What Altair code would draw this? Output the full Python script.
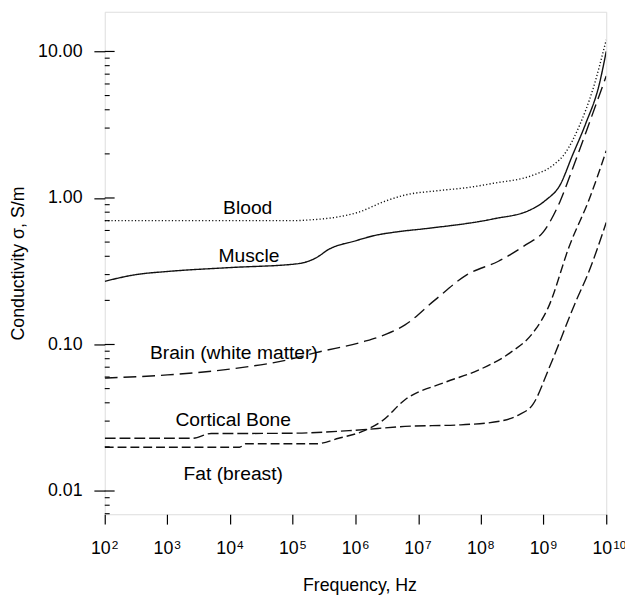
import math
import altair as alt
import pandas as pd

# ---- data (frequency in Hz, conductivity in S/m) ----
blood_f = [1e2, 1e3, 1e4, 1e5, 10**5.3, 10**5.7, 10**6.05, 10**6.47, 10**6.8, 10**7.3, 10**7.8,
           10**8.2, 10**8.83, 10**9.15, 10**9.35, 10**9.57, 10**9.78, 1e10]
blood_s = [0.70, 0.70, 0.70, 0.70, 0.71, 0.74, 0.80, 0.95, 1.05, 1.12, 1.18,
           1.26, 1.43, 1.67, 2.04, 3.1, 5.4, 12.0]

muscle_f = [1e2, 10**2.5, 1e3, 1e4, 10**5.06, 10**5.37, 10**5.57, 1e6, 10**6.31, 10**6.7, 10**7.15,
            10**8.2, 10**8.79, 10**9.04, 10**9.26, 10**9.46, 10**9.67, 10**9.89, 1e10]
muscle_s = [0.27, 0.30, 0.315, 0.335, 0.355, 0.39, 0.445, 0.51, 0.555, 0.59, 0.62,
            0.72, 0.83, 0.97, 1.22, 1.95, 3.2, 6.0, 10.0]

brain_f = [1e2, 1e3, 1e4, 1e5, 10**5.37, 10**6.11, 10**6.5, 10**6.79, 10**7.26, 10**7.78, 10**8.28,
           10**8.72, 1e9, 10**9.26, 10**9.46, 10**9.73, 1e10]
brain_s = [0.059, 0.062, 0.068, 0.080, 0.088, 0.104, 0.118, 0.136, 0.20, 0.30, 0.37,
           0.48, 0.59, 0.94, 1.57, 3.25, 6.8]

bone_f = [1e2, 10**3.4, 10**3.7, 1e4, 1e5, 1e6, 10**6.79, 10**7.68, 10**8.31, 10**8.6,
          10**8.83, 10**9.1, 10**9.5, 10**9.73, 1e10]
bone_s = [0.0229, 0.0229, 0.0247, 0.0247, 0.0248, 0.026, 0.0276, 0.0283, 0.030, 0.033,
          0.039, 0.071, 0.19, 0.32, 0.68]

fat_f = [1e2, 1e3, 10**4.15, 10**4.25, 1e5, 10**5.37, 10**5.73, 10**6.11, 10**6.42, 10**6.79,
         10**7.42, 1e8, 10**8.47, 10**8.83, 10**9.07, 10**9.42, 10**9.73, 1e10]
fat_s = [0.0199, 0.0199, 0.0199, 0.021, 0.021, 0.021, 0.0229, 0.0255, 0.030, 0.042,
         0.055, 0.068, 0.088, 0.12, 0.177, 0.48, 0.985, 2.1]

series_names = ["Blood", "Muscle", "Brain (white matter)", "Cortical Bone", "Fat (breast)"]
series_f = [blood_f, muscle_f, brain_f, bone_f, fat_f]
series_s = [blood_s, muscle_s, brain_s, bone_s, fat_s]
series_dash = [[1.2, 2.2], [1, 0], [13, 6], [11, 4], [9, 4]]

label_text = ["Blood", "Muscle", "Brain (white matter)", "Cortical Bone", "Fat (breast)"]
label_f = [10**4.28, 10**4.30, 10**4.06, 10**4.05, 10**4.05]
label_s = [0.85, 0.40, 0.088, 0.0307, 0.0131]

x_ticks = [1e2, 1e3, 1e4, 1e5, 1e6, 1e7, 1e8, 1e9, 1e10]
x_tick_base = ["10"] * 9
x_tick_exp = ["2", "3", "4", "5", "6", "7", "8", "9", "10"]
y_ticks = [0.01, 0.1, 1.0, 10.0]
y_minor = [m * 10.0**k for k in range(-3, 2) for m in range(2, 10)]
y_domain = [0.00694, 18.66]
x_domain = [1e2, 1e10]

FONT = "Liberation Sans"
W, H = 508, 509

rows = []
for name, fs, ss in zip(series_names, series_f, series_s):
    for f, s in zip(fs, ss):
        rows.append({"series": name, "f": f, "s": s})
df = pd.DataFrame(rows)

labels_df = pd.DataFrame({"text": label_text, "f": label_f, "s": label_s})
y_minor_df = pd.DataFrame({"s": [v for v in y_minor if y_domain[0] <= v <= y_domain[1]]})
y_major_df = pd.DataFrame({"s": y_ticks})
xlab_df = pd.DataFrame({"f": x_ticks, "base": x_tick_base, "exp": x_tick_exp})

xscale = alt.Scale(type="log", domain=x_domain, nice=False)
yscale = alt.Scale(type="log", domain=y_domain, nice=False)

x_enc = alt.X("f:Q", scale=xscale, axis=alt.Axis(
    values=x_ticks, labels=False, title="Frequency, Hz", grid=False,
    tickSize=10, tickColor="black", tickWidth=1.2, domain=False,
    titleFontSize=18, titleFont=FONT, titleFontWeight="normal", titleColor="black",
    titleX=258, titleY=72, titleBaseline="middle", titleAnchor="middle", titleAlign="center"))
y_enc = alt.Y("s:Q", scale=yscale, axis=alt.Axis(
    values=y_ticks, format=".2f", title="Conductivity σ, S/m", grid=False,
    tickSize=11, tickColor="black", tickWidth=1.2, domain=False,
    labelPadding=12, labelFontSize=18, labelFont=FONT, labelColor="black",
    titleFontSize=18, titleFont=FONT, titleFontWeight="normal", titleColor="black",
    titleAngle=270, titleX=-87, titleY=254.5, titleBaseline="middle", titleAlign="center"))

lines = []
for name, dash in zip(series_names, series_dash):
    lines.append(
        alt.Chart(df[df["series"] == name]).mark_line(
            color="#111111", strokeWidth=1.4, strokeDash=dash, interpolate="monotone", clip=True
        ).encode(x=x_enc, y=y_enc, order="f:Q")
    )

texts = alt.Chart(labels_df).mark_text(
    font=FONT, fontSize=19.5, color="black", align="center", baseline="middle"
).encode(x=alt.X("f:Q", scale=xscale), y=alt.Y("s:Q", scale=yscale), text="text:N")

xl_base = alt.Chart(xlab_df).mark_text(
    font=FONT, fontSize=18, color="black", align="right", baseline="middle", dx=6
).encode(x=alt.X("f:Q", scale=xscale), y=alt.value(H + 35), text="base:N")
xl_exp = alt.Chart(xlab_df).mark_text(
    font=FONT, fontSize=12, color="black", align="left", baseline="middle", dx=7
).encode(x=alt.X("f:Q", scale=xscale), y=alt.value(H + 31.5), text="exp:N")

minor = alt.Chart(y_minor_df).mark_rule(color="black", strokeWidth=1.1).encode(
    x=alt.value(0), x2=alt.value(5), y=alt.Y("s:Q", scale=yscale))
major = alt.Chart(y_major_df).mark_rule(color="black", strokeWidth=1.2).encode(
    x=alt.value(0), x2=alt.value(10), y=alt.Y("s:Q", scale=yscale))

chart = alt.layer(*lines, texts, xl_base, xl_exp, minor, major).properties(
    width=W, height=H,
    autosize=alt.AutoSizeParams(type="none"),
    padding={"left": 98, "top": 0, "right": 19, "bottom": 80},
).configure_view(stroke="black", strokeWidth=1.5).configure(background="white")

chart.save("out.html", embed_options={"renderer": "svg", "actions": False})
